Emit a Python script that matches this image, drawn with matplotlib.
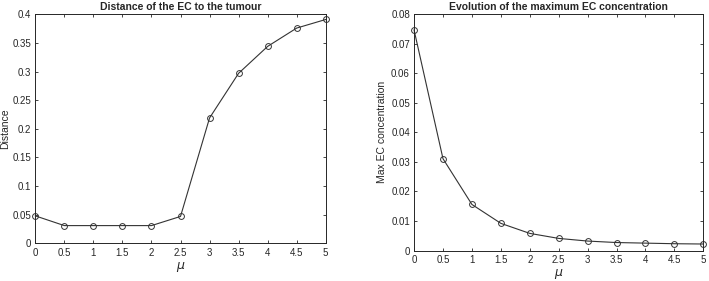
import numpy as np
import matplotlib.pyplot as plt

# data
mu = [0, 0.5, 1, 1.5, 2, 2.5, 3, 3.5, 4, 4.5, 5]
distance = [0.048, 0.031, 0.031, 0.031, 0.031, 0.047, 0.219, 0.297, 0.344, 0.376, 0.391]
max_conc = [0.0747, 0.0311, 0.0156, 0.0092, 0.0058, 0.0041, 0.0032, 0.0027, 0.0025, 0.0023, 0.0022]

xticks = [0, 0.5, 1, 1.5, 2, 2.5, 3, 3.5, 4, 4.5, 5]
xticklabels = ['0', '0.5', '1', '1.5', '2', '2.5', '3', '3.5', '4', '4.5', '5']
yticks_l = [0, 0.05, 0.1, 0.15, 0.2, 0.25, 0.3, 0.35, 0.4]
yticklabels_l = ['0', '0.05', '0.1', '0.15', '0.2', '0.25', '0.3', '0.35', '0.4']
yticks_r = [0, 0.01, 0.02, 0.03, 0.04, 0.05, 0.06, 0.07, 0.08]
yticklabels_r = ['0', '0.01', '0.02', '0.03', '0.04', '0.05', '0.06', '0.07', '0.08']

txt = '#262626'
plt.rcParams['font.family'] = 'Liberation Sans'
plt.rcParams['font.size'] = 7

fig = plt.figure(figsize=(7.09, 2.81), dpi=100)
axl = fig.add_axes([0.0498, 0.134, 0.4096, 0.815])
axr = fig.add_axes([0.584, 0.1085, 0.408, 0.8406])

def style(ax, yticks, ylabels, ylim):
	ax.set_xlim(0, 5)
	ax.set_ylim(*ylim)
	ax.set_xticks(xticks)
	ax.set_xticklabels(xticklabels)
	ax.set_yticks(yticks)
	ax.set_yticklabels(ylabels)
	ax.tick_params(direction='in', length=2.5, width=0.6, top=True, right=True,
		colors=txt, labelsize=7, pad=3)
	for s in ax.spines.values():
		s.set_linewidth(0.7)
		s.set_color(txt)
	ax.set_xlabel(r'$\mu$', color=txt, fontsize=9, labelpad=2)

axl.plot(mu, distance, color='#333333', lw=0.8, marker='o', ms=4.2,
	mfc='none', mec='#333333', mew=0.7, clip_on=False)
style(axl, yticks_l, yticklabels_l, (0, 0.4))
axl.set_ylabel('Distance', color=txt, fontsize=7.5)
axl.yaxis.set_label_coords(-0.086, 0.5)
axl.set_title('Distance of the EC to the tumour', fontsize=7.5, fontweight='bold', color=txt, pad=3)

axr.plot(mu, max_conc, color='#333333', lw=0.8, marker='o', ms=4.2,
	mfc='none', mec='#333333', mew=0.7, clip_on=False)
style(axr, yticks_r, yticklabels_r, (0, 0.08))
axr.set_ylabel('Max EC concentration', color=txt, fontsize=7.5)
axr.yaxis.set_label_coords(-0.093, 0.5)
axr.set_title('Evolution of the maximum EC concentration', fontsize=7.5, fontweight='bold', color=txt, pad=3)

fig.savefig('out.png', dpi=100)
